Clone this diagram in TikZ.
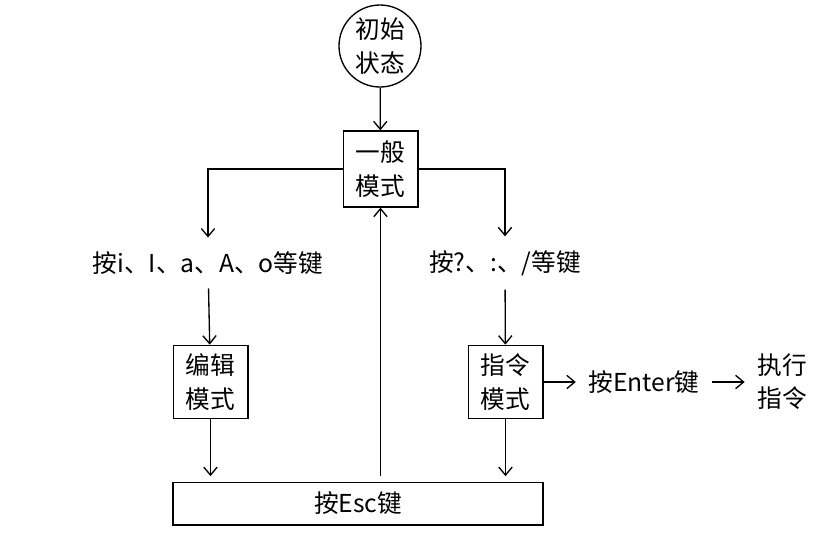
\documentclass[tikz,border=0pt]{standalone}
\usepackage{fontspec}
\setmainfont{Noto Sans CJK SC}
\usetikzlibrary{arrows.meta,positioning}

\begin{document}
\begin{tikzpicture}[x=0.75pt, y=-0.75pt, line width=1pt,
    font=\fontsize{18.5}{25}\selectfont,
    modebox/.style={draw, align=center, minimum width=56pt, minimum height=55pt, inner sep=0pt},
    keytext/.style={align=center, inner xsep=9pt, inner ysep=10pt},
    arr/.style={-{Straight Barb[length=6pt,width=10pt]}},
  ]
  \useasboundingbox (0,0) rectangle (833,544);

  % start state
  \node[draw, circle, minimum size=61.5pt, inner sep=0pt, align=center] (start) at (380,46) {初始\\状态};

  % mode boxes
  \node[modebox, minimum height=57pt] (general) at (380.5,169) {一般\\模式};
  \node[modebox] (edit) at (210.5,382) {编辑\\模式};
  \node[modebox] (cmd) at (505.5,382) {指令\\模式};
  \node[draw, minimum width=277.5pt, minimum height=32pt] (esc) at (358,503.5) {按Esc键};

  % key labels
  \node[keytext] (keyEdit) at (208,263) {按i、I、a、A、o等键};
  \node[keytext] (keyCmd) at (505,263) {按?、:、/等键};
  \node[keytext] (enter) at (644,382) {按Enter键};
  \node[keytext] (exec) at (782,382) {执行\\指令};

  % connectors
  \draw[arr] (start) -- (general);
  \draw[arr] (general.west) -| (keyEdit.north);
  \draw[arr] (keyEdit) -- (edit);
  \draw[arr] (general.east) -| (keyCmd.north);
  \draw[arr] (keyCmd) -- (cmd);
  \draw[arr, shorten >=4pt] (edit) -- (edit |- esc.north);
  \draw[arr, shorten >=4pt] (cmd) -- (cmd |- esc.north);
  \draw[arr, shorten <=4pt] (general |- esc.north) -- (general);
  \draw[arr] (cmd) -- (enter);
  \draw[arr] (enter) -- (exec);
\end{tikzpicture}
\end{document}
